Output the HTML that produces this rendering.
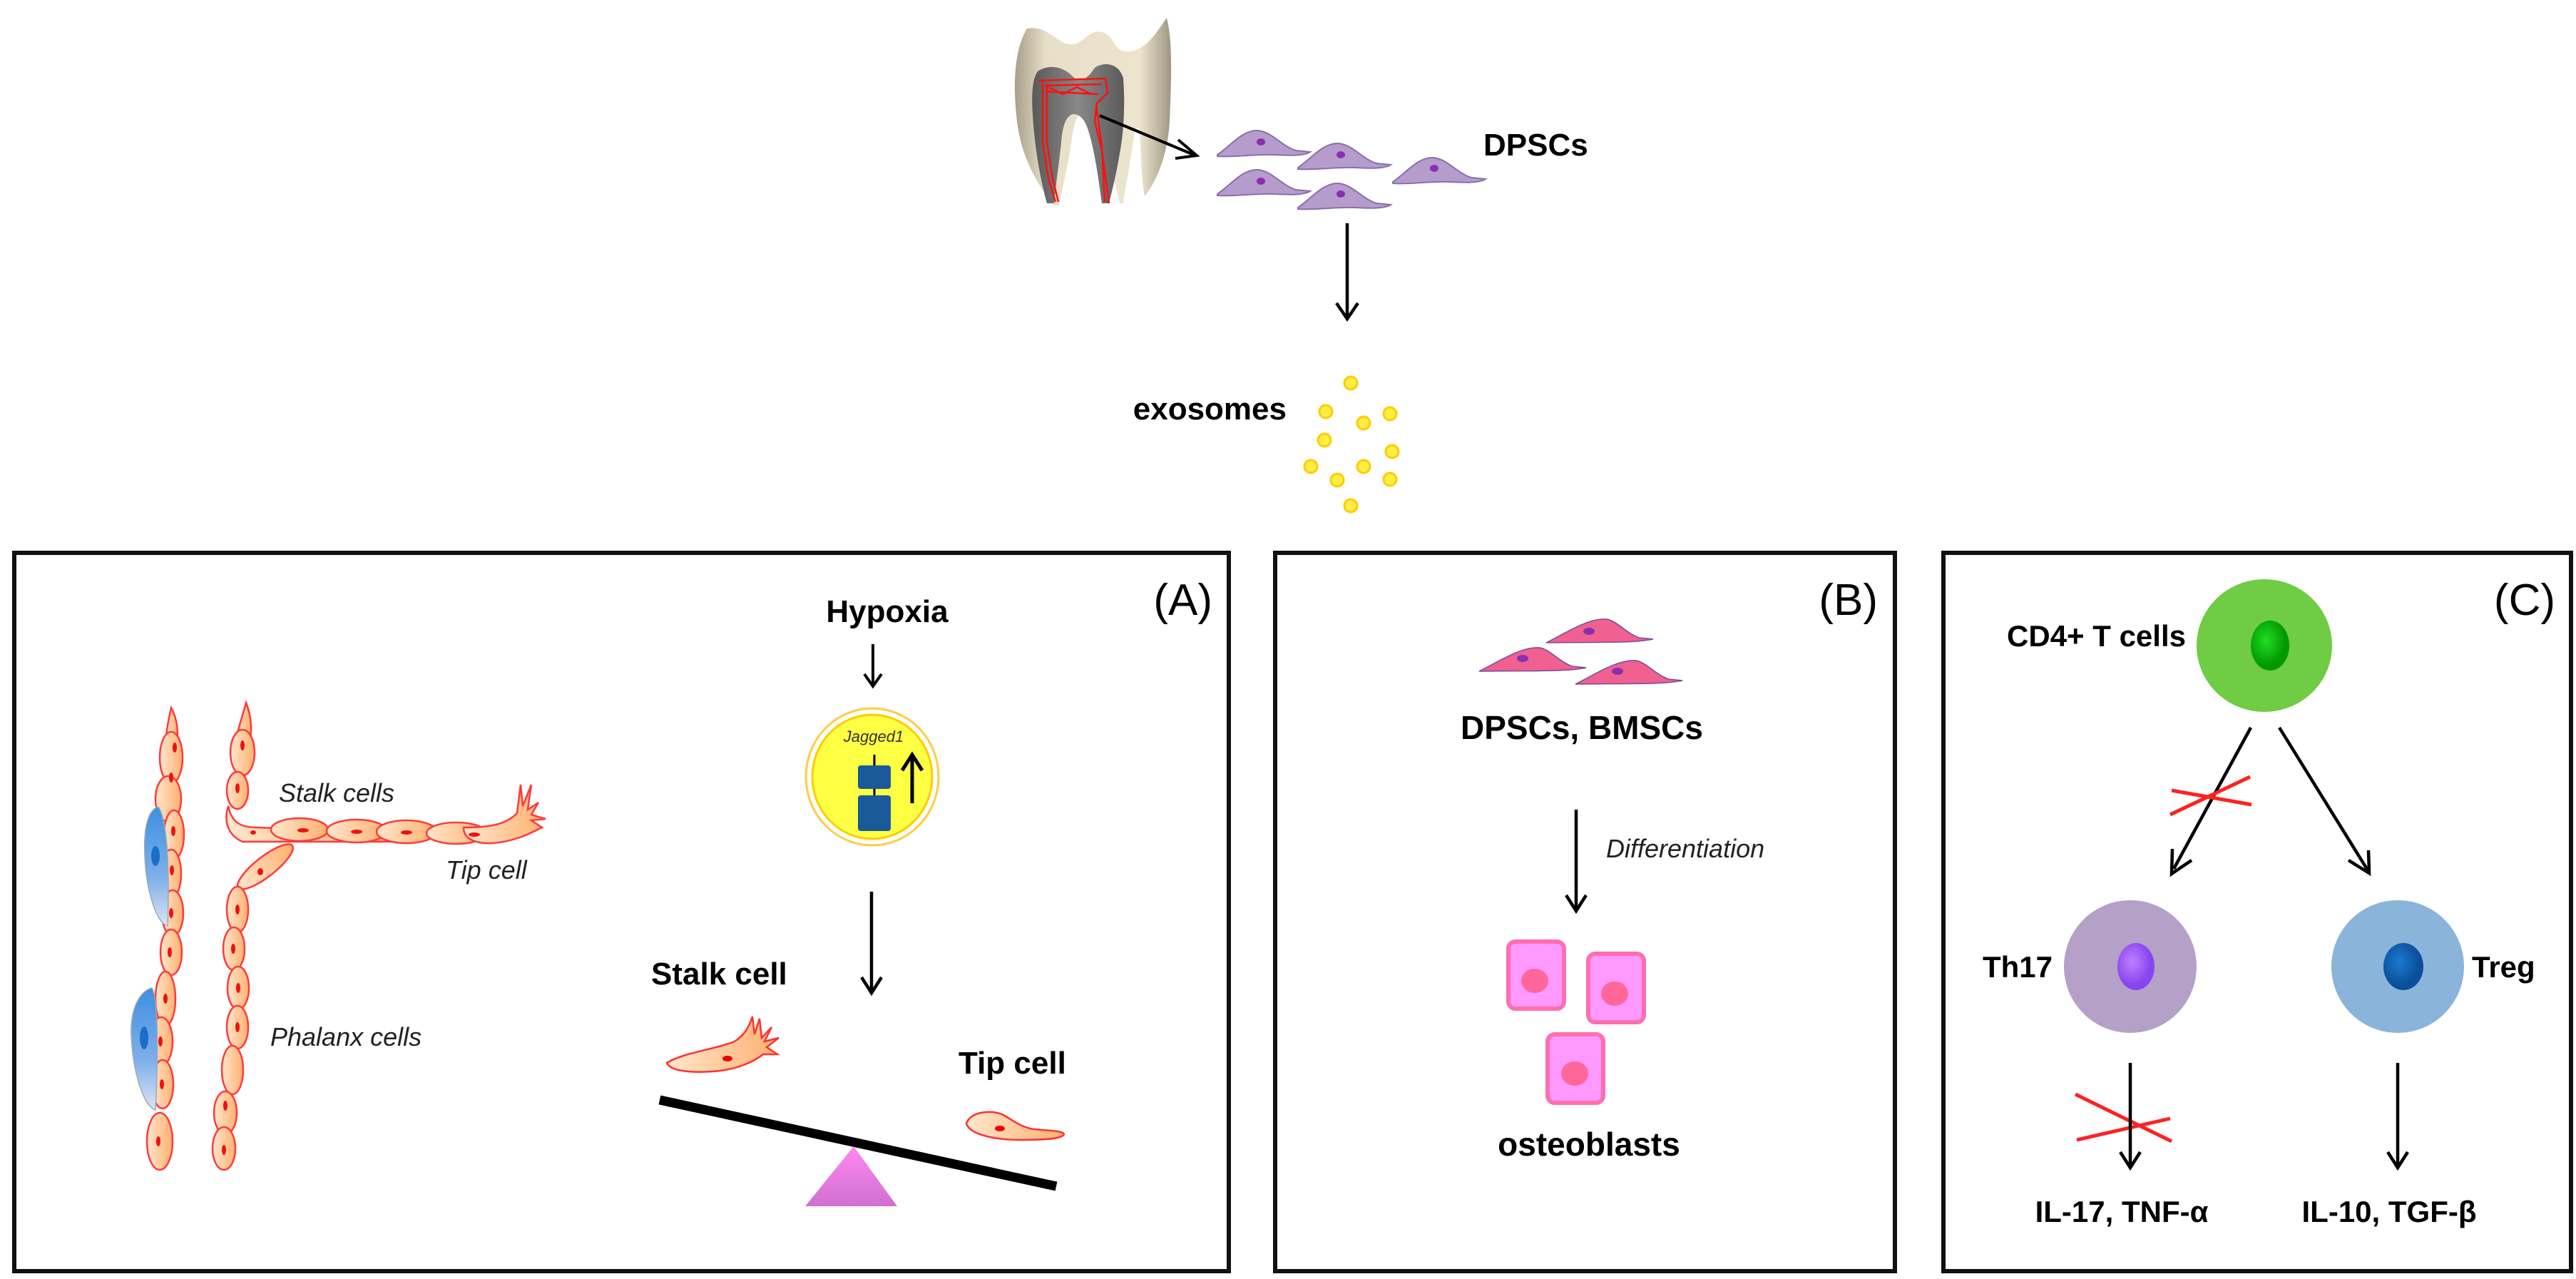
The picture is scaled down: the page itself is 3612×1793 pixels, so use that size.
<!DOCTYPE html>
<html><head><meta charset="utf-8"><style>
html,body{margin:0;padding:0;background:#fff;}
svg{display:block;}
text{font-family:"Liberation Sans",Arial,sans-serif;}
</style></head><body>
<svg width="3612" height="1793" viewBox="0 0 3612 1793" xmlns="http://www.w3.org/2000/svg">
<defs>
<marker id="ah" markerWidth="10" markerHeight="10" refX="8" refY="5" orient="auto" markerUnits="userSpaceOnUse" viewBox="0 0 10 10">
</marker>
<linearGradient id="tooth" x1="0" x2="1" y1="0" y2="0">
<stop offset="0" stop-color="#a79f88"/><stop offset="0.2" stop-color="#e7dfc8"/><stop offset="0.8" stop-color="#ece4cd"/><stop offset="1" stop-color="#9e9682"/></linearGradient>
<linearGradient id="pulp" x1="0" x2="1"><stop offset="0" stop-color="#5a5a5a"/><stop offset="0.5" stop-color="#888"/><stop offset="1" stop-color="#5a5a5a"/></linearGradient>
<linearGradient id="orange" x1="0" x2="1"><stop offset="0" stop-color="#ffe6cc"/><stop offset="1" stop-color="#ffb070"/></linearGradient>
<linearGradient id="blue" x1="0" x2="0" y1="0" y2="1"><stop offset="0" stop-color="#3d8fe0"/><stop offset="0.6" stop-color="#7fb0e8"/><stop offset="1" stop-color="#dde4f2"/></linearGradient>
<linearGradient id="tri" x1="0" x2="0" y1="0" y2="1"><stop offset="0" stop-color="#ff88f0"/><stop offset="1" stop-color="#d070d0"/></linearGradient>
<radialGradient id="nucG" cx="0.4" cy="0.4"><stop offset="0" stop-color="#22dd22"/><stop offset="1" stop-color="#009900"/></radialGradient>
<radialGradient id="nucP" cx="0.4" cy="0.4"><stop offset="0" stop-color="#c080ff"/><stop offset="1" stop-color="#8844ee"/></radialGradient>
<radialGradient id="nucB" cx="0.4" cy="0.4"><stop offset="0" stop-color="#1c7ad0"/><stop offset="1" stop-color="#0a4f9a"/></radialGradient>
</defs>

<!-- tooth -->
<path d="M1440,40 C1470,35 1480,60 1500,62 C1520,64 1525,40 1545,45 C1565,50 1560,75 1585,72 C1610,68 1625,40 1636,25 C1645,60 1642,120 1640,170 C1638,210 1625,250 1605,275 C1600,250 1600,210 1598,185 C1596,175 1592,178 1590,190 C1585,230 1578,260 1575,285 L1570,285 C1568,270 1555,230 1545,200 C1538,175 1528,160 1518,160 C1508,160 1505,180 1502,200 C1498,230 1490,260 1485,288 L1478,288 C1455,260 1432,220 1426,170 C1420,120 1422,70 1440,40 Z" fill="url(#tooth)"/>
<path d="M1455,100 C1470,90 1490,92 1505,108 C1515,118 1525,110 1535,95 C1550,85 1570,90 1575,110 C1578,150 1575,190 1570,215 C1565,245 1560,265 1555,285 L1545,285 C1540,250 1535,210 1525,180 C1520,165 1512,160 1505,160 C1495,162 1490,175 1488,200 C1485,230 1480,260 1478,285 L1468,285 C1458,250 1450,200 1448,160 C1446,130 1448,110 1455,100 Z" fill="url(#pulp)"/>
<g fill="none" stroke="#ff1010" stroke-width="2.5">
<path d="M1456,113 L1550,110 L1553,130 L1538,145 L1535,170 L1545,210 L1555,285"/>
<path d="M1462,113 L1462,200 L1470,250 L1480,283"/>
<path d="M1468,118 L1468,200 L1476,250 L1484,283"/>
<path d="M1537,148 L1545,205 L1549,283"/>
<path d="M1465,120 L1545,118 M1465,128 L1540,132 M1470,122 L1490,132 L1510,122 L1530,132"/>
</g>
<!-- arrow tooth to cells -->
<line x1="1542" y1="162" x2="1674" y2="217" stroke="#000" stroke-width="4"/>
<polyline points="1652,196 1678,218 1648,222" fill="none" stroke="#000" stroke-width="4"/>

<!-- DPSC cells -->
<g fill="#b59ccd" stroke="#8a6fa8" stroke-width="2">
<path d="M0,34 C20,20 35,0 55,0 C75,0 90,22 110,28 L130,30 C120,36 100,35 80,34 C50,33 20,38 0,36 Z" transform="translate(1707,183)"/>
<path d="M0,34 C20,20 35,0 55,0 C75,0 90,22 110,28 L130,30 C120,36 100,35 80,34 C50,33 20,38 0,36 Z" transform="translate(1820,201)"/>
<path d="M0,34 C20,20 35,0 55,0 C75,0 90,22 110,28 L130,30 C120,36 100,35 80,34 C50,33 20,38 0,36 Z" transform="translate(1953,221)"/>
<path d="M0,34 C20,20 35,0 55,0 C75,0 90,22 110,28 L130,30 C120,36 100,35 80,34 C50,33 20,38 0,36 Z" transform="translate(1707,238)"/>
<path d="M0,34 C20,20 35,0 55,0 C75,0 90,22 110,28 L130,30 C120,36 100,35 80,34 C50,33 20,38 0,36 Z" transform="translate(1820,257)"/>
</g>
<g fill="#8a2fb0">
<ellipse cx="1768" cy="199" rx="6" ry="5"/><ellipse cx="1880" cy="217" rx="6" ry="5"/><ellipse cx="2011" cy="236" rx="6" ry="5"/><ellipse cx="1768" cy="254" rx="6" ry="5"/><ellipse cx="1880" cy="272" rx="6" ry="5"/>
</g>
<text x="2080" y="218" font-size="44" font-weight="bold">DPSCs</text>

<!-- down arrow -->
<line x1="1889" y1="313" x2="1889" y2="445" stroke="#000" stroke-width="4.5"/>
<polyline points="1874,425 1889,447 1904,425" fill="none" stroke="#000" stroke-width="4.5"/>

<text x="1804" y="588" font-size="44" font-weight="bold" text-anchor="end">exosomes</text>
<g fill="#ffee44" stroke="#ffcc00" stroke-width="3">
<circle cx="1894" cy="537" r="9"/><circle cx="1859" cy="577" r="9"/><circle cx="1949" cy="580" r="9"/><circle cx="1912" cy="593" r="9"/><circle cx="1857" cy="617" r="9"/><circle cx="1952" cy="633" r="9"/><circle cx="1838" cy="654" r="9"/><circle cx="1912" cy="654" r="9"/><circle cx="1875" cy="673" r="9"/><circle cx="1949" cy="672" r="9"/><circle cx="1894" cy="709" r="9"/>
</g>

<!-- Panel boxes -->
<g fill="none" stroke="#111" stroke-width="6">
<rect x="20" y="775" width="1703" height="1007"/>
<rect x="1788" y="775" width="869" height="1007"/>
<rect x="2725" y="775" width="880" height="1007"/>
</g>

<!-- Panel A -->
<text x="1700" y="862" font-size="62" text-anchor="end">(A)</text>
<text x="1244" y="872" font-size="44" font-weight="bold" text-anchor="middle">Hypoxia</text>
<line x1="1224" y1="903" x2="1224" y2="960" stroke="#000" stroke-width="4"/>
<polyline points="1212,945 1224,962 1236,945" fill="none" stroke="#000" stroke-width="4"/>

<ellipse cx="1223" cy="1089" rx="93" ry="96" fill="#fff" stroke="#ffcc44" stroke-width="3"/>
<ellipse cx="1223" cy="1089" rx="84" ry="87" fill="#ffff44" stroke="#ffcc00" stroke-width="3"/>
<text x="1225" y="1040" font-size="22" font-style="italic" text-anchor="middle" fill="#333">Jagged1</text>
<line x1="1226" y1="1058" x2="1226" y2="1118" stroke="#000" stroke-width="3"/>
<rect x="1203" y="1073" width="46" height="33" rx="4" fill="#1a5a9a"/>
<rect x="1203" y="1115" width="46" height="50" rx="4" fill="#1a5a9a"/>
<line x1="1279" y1="1126" x2="1279" y2="1062" stroke="#000" stroke-width="5"/>
<polyline points="1265,1080 1279,1058 1293,1080" fill="none" stroke="#000" stroke-width="5"/>

<line x1="1222" y1="1250" x2="1222" y2="1390" stroke="#000" stroke-width="4.5"/>
<polyline points="1208,1370 1222,1392 1236,1370" fill="none" stroke="#000" stroke-width="4.5"/>

<text x="913" y="1380" font-size="44" font-weight="bold">Stalk cell</text>
<text x="1344" y="1505" font-size="44" font-weight="bold">Tip cell</text>
<!-- stalk cell shape -->
<path d="M935,1490 C960,1475 1000,1472 1030,1460 C1045,1450 1050,1440 1055,1425 L1058,1450 L1065,1428 L1068,1455 L1082,1440 L1072,1460 L1092,1455 L1075,1468 L1090,1478 L1070,1478 C1055,1490 1030,1500 1000,1502 C970,1504 940,1502 935,1490 Z" fill="url(#orange)" stroke="#ff3030" stroke-width="2.5"/>
<ellipse cx="1020" cy="1484" rx="7" ry="4" fill="#ee0000"/>
<!-- tip cell shape -->
<path d="M1355,1575 C1360,1560 1385,1555 1405,1562 C1420,1570 1430,1580 1450,1583 C1470,1585 1490,1585 1492,1590 C1490,1597 1460,1598 1430,1598 C1400,1598 1360,1592 1355,1575 Z" fill="url(#orange)" stroke="#ff3030" stroke-width="2.5"/>
<ellipse cx="1402" cy="1582" rx="7" ry="4" fill="#ee0000"/>
<!-- seesaw -->
<line x1="925" y1="1542" x2="1481" y2="1663" stroke="#000" stroke-width="13"/>
<polygon points="1197,1607 1129,1691 1258,1691" fill="url(#tri)"/>

<!-- vessels -->
<g stroke="#ff3a3a" stroke-width="2.5" fill="url(#orange)">
<!-- left vessel -->
<path d="M240,992 C250,1010 250,1030 248,1050 L232,1050 C232,1030 236,1010 240,992 Z"/>
<ellipse cx="240" cy="1062" rx="16" ry="36"/>
<ellipse cx="236" cy="1120" rx="18" ry="32"/>
<ellipse cx="244" cy="1170" rx="14" ry="34"/>
<ellipse cx="240" cy="1225" rx="14" ry="34"/>
<ellipse cx="242" cy="1280" rx="15" ry="32"/>
<ellipse cx="240" cy="1335" rx="15" ry="32"/>
<ellipse cx="232" cy="1400" rx="14" ry="38"/>
<ellipse cx="226" cy="1460" rx="16" ry="34"/>
<ellipse cx="228" cy="1520" rx="15" ry="34"/>
<ellipse cx="224" cy="1600" rx="18" ry="40"/>
<!-- right upper -->
<path d="M345,985 C355,1010 352,1030 350,1045 L330,1045 C332,1025 340,1005 345,985 Z"/>
<ellipse cx="340" cy="1055" rx="17" ry="32"/>
<ellipse cx="333" cy="1108" rx="15" ry="26"/>
<!-- branch -->
<path d="M320,1130 C325,1155 340,1160 360,1160 L560,1168 L560,1180 L340,1180 C318,1170 314,1150 320,1130 Z"/>
<ellipse cx="420" cy="1163" rx="40" ry="16"/>
<ellipse cx="500" cy="1165" rx="42" ry="16"/>
<ellipse cx="570" cy="1166" rx="42" ry="16"/>
<ellipse cx="640" cy="1168" rx="42" ry="15"/>
<path d="M650,1160 C690,1160 710,1155 725,1140 L730,1100 L733,1130 L745,1100 L740,1135 L755,1125 L745,1142 L765,1148 L745,1150 L760,1160 C740,1170 720,1180 690,1182 C670,1183 650,1178 650,1160 Z"/>
<!-- diagonal cell -->
<ellipse cx="372" cy="1215" rx="48" ry="14" transform="rotate(-38 372 1215)"/>
<!-- right lower -->
<ellipse cx="333" cy="1275" rx="15" ry="32"/>
<ellipse cx="328" cy="1330" rx="15" ry="30"/>
<ellipse cx="334" cy="1385" rx="15" ry="30"/>
<ellipse cx="333" cy="1440" rx="15" ry="30"/>
<ellipse cx="326" cy="1500" rx="15" ry="34"/>
<ellipse cx="316" cy="1560" rx="16" ry="30"/>
<ellipse cx="314" cy="1610" rx="16" ry="30"/>
</g>
<g fill="#ee1111">
<ellipse cx="245" cy="1048" rx="3" ry="7"/><ellipse cx="240" cy="1090" rx="3" ry="7"/><ellipse cx="243" cy="1165" rx="3" ry="7"/><ellipse cx="241" cy="1220" rx="3" ry="7"/><ellipse cx="240" cy="1280" rx="3" ry="7"/><ellipse cx="238" cy="1335" rx="3" ry="7"/><ellipse cx="232" cy="1400" rx="3" ry="7"/><ellipse cx="225" cy="1460" rx="3" ry="7"/><ellipse cx="227" cy="1520" rx="3" ry="7"/><ellipse cx="222" cy="1600" rx="3" ry="7"/>
<ellipse cx="340" cy="1045" rx="3" ry="7"/><ellipse cx="333" cy="1105" rx="3" ry="7"/>
<ellipse cx="355" cy="1167" rx="4" ry="3"/><ellipse cx="425" cy="1164" rx="8" ry="3"/><ellipse cx="500" cy="1166" rx="8" ry="3"/><ellipse cx="570" cy="1167" rx="8" ry="3"/><ellipse cx="665" cy="1170" rx="8" ry="3"/><ellipse cx="365" cy="1222" rx="4" ry="5"/>
<ellipse cx="333" cy="1275" rx="3" ry="7"/><ellipse cx="327" cy="1330" rx="3" ry="7"/><ellipse cx="334" cy="1385" rx="3" ry="7"/><ellipse cx="333" cy="1440" rx="3" ry="7"/><ellipse cx="316" cy="1550" rx="3" ry="7"/><ellipse cx="314" cy="1612" rx="3" ry="7"/>
</g>
<path d="M222,1131 C235,1150 238,1220 235,1298 C220,1295 205,1250 203,1200 C201,1160 208,1135 222,1131 Z" fill="url(#blue)" stroke="#9ab" stroke-width="1.5"/>
<ellipse cx="218" cy="1200" rx="6" ry="14" fill="#1c6ec8"/>
<path d="M213,1385 C222,1400 222,1480 218,1556 C200,1550 186,1500 184,1450 C183,1415 195,1390 213,1385 Z" fill="url(#blue)" stroke="#9ab" stroke-width="1.5"/>
<ellipse cx="202" cy="1455" rx="6" ry="16" fill="#1c6ec8"/>
<text x="391" y="1124" font-size="36" font-style="italic" fill="#222">Stalk cells</text>
<text x="625" y="1232" font-size="36" font-style="italic" fill="#222">Tip cell</text>
<text x="379" y="1466" font-size="36" font-style="italic" fill="#222">Phalanx cells</text>

<!-- Panel B -->
<text x="2633" y="862" font-size="62" text-anchor="end">(B)</text>
<g fill="#f06090" stroke="#7a4a9a" stroke-width="1.5">
<path d="M0,35 C30,20 60,0 85,2 C100,5 110,20 130,28 L150,30 C120,36 80,34 0,35 Z" transform="translate(2168,866)"/>
<path d="M0,35 C30,20 60,0 85,2 C100,5 110,20 130,28 L150,30 C120,36 80,34 0,35 Z" transform="translate(2074,906)"/>
<path d="M0,35 C30,20 60,0 85,2 C100,5 110,20 130,28 L150,30 C120,36 80,34 0,35 Z" transform="translate(2209,924)"/>
</g>
<g fill="#8a2fb0"><ellipse cx="2228" cy="885" rx="8" ry="5"/><ellipse cx="2135" cy="923" rx="8" ry="5"/><ellipse cx="2268" cy="941" rx="8" ry="5"/></g>
<text x="2218" y="1036" font-size="46" font-weight="bold" text-anchor="middle">DPSCs, BMSCs</text>
<line x1="2210" y1="1135" x2="2210" y2="1275" stroke="#000" stroke-width="4.5"/>
<polyline points="2196,1255 2210,1277 2224,1255" fill="none" stroke="#000" stroke-width="4.5"/>
<text x="2252" y="1202" font-size="36" font-style="italic" fill="#222">Differentiation</text>
<g fill="#ff99ff" stroke="#ff6fae" stroke-width="6">
<rect x="2115" y="1320" width="78" height="94" rx="10"/>
<rect x="2227" y="1337" width="78" height="96" rx="10"/>
<rect x="2170" y="1450" width="78" height="96" rx="10"/>
</g>
<g fill="#ff6699"><ellipse cx="2152" cy="1375" rx="19" ry="17"/><ellipse cx="2264" cy="1393" rx="19" ry="17"/><ellipse cx="2208" cy="1505" rx="19" ry="17"/></g>
<text x="2228" y="1620" font-size="46" font-weight="bold" text-anchor="middle">osteoblasts</text>

<!-- Panel C -->
<text x="3583" y="862" font-size="62" text-anchor="end">(C)</text>
<text x="3065" y="906" font-size="42" font-weight="bold" text-anchor="end">CD4+ T cells</text>
<ellipse cx="3175" cy="905" rx="95" ry="93" fill="#6fcc44"/>
<ellipse cx="3183" cy="905" rx="27" ry="35" fill="url(#nucG)"/>
<line x1="3156" y1="1020" x2="3048" y2="1218" stroke="#000" stroke-width="4.5"/>
<polyline points="3046,1190 3045,1225 3073,1206" fill="none" stroke="#000" stroke-width="4.5"/>
<line x1="3196" y1="1020" x2="3320" y2="1220" stroke="#000" stroke-width="4.5"/>
<polyline points="3293,1206 3322,1224 3321,1192" fill="none" stroke="#000" stroke-width="4.5"/>
<g stroke="#ff2020" stroke-width="5"><line x1="3045" y1="1108" x2="3157" y2="1128"/><line x1="3043" y1="1142" x2="3155" y2="1089"/><line x1="2910" y1="1534" x2="3045" y2="1600"/><line x1="2912" y1="1598" x2="3043" y2="1568"/></g>
<ellipse cx="2987" cy="1355" rx="93" ry="93" fill="#b5a0c8"/>
<ellipse cx="2995" cy="1355" rx="26" ry="33" fill="url(#nucP)"/>
<text x="2878" y="1370" font-size="42" font-weight="bold" text-anchor="end">Th17</text>
<ellipse cx="3362" cy="1355" rx="93" ry="93" fill="#8ab4da"/>
<ellipse cx="3370" cy="1355" rx="28" ry="33" fill="url(#nucB)"/>
<text x="3466" y="1370" font-size="42" font-weight="bold">Treg</text>
<line x1="2987" y1="1490" x2="2987" y2="1635" stroke="#000" stroke-width="4.5"/>
<polyline points="2973,1615 2987,1637 3001,1615" fill="none" stroke="#000" stroke-width="4.5"/>
<line x1="3362" y1="1490" x2="3362" y2="1635" stroke="#000" stroke-width="4.5"/>
<polyline points="3348,1615 3362,1637 3376,1615" fill="none" stroke="#000" stroke-width="4.5"/>
<text x="2975" y="1713" font-size="42" font-weight="bold" text-anchor="middle">IL-17, TNF-α</text>
<text x="3350" y="1713" font-size="42" font-weight="bold" text-anchor="middle">IL-10, TGF-β</text>
</svg>
</body></html>
